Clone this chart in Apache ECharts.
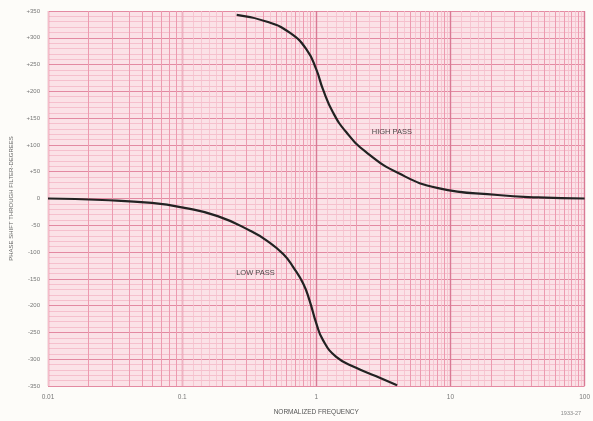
<!DOCTYPE html>
<html><head><meta charset="utf-8">
<script src="https://cdn.jsdelivr.net/npm/echarts@6/dist/echarts.min.js"></script>
<style>html,body{margin:0;padding:0;background:#fdfcf9;}#c{width:593px;height:421px;}</style>
</head><body><div id="c"></div>
<script>
// ---- data ----
const lowFreq = [0.01, 0.0254, 0.0594, 0.104, 0.184, 0.324, 0.43, 0.569, 0.673, 0.80, 0.89, 1.0, 1.12, 1.4, 1.98, 2.77, 4.0];
const lowDeg  = [0, -2.8, -8.3, -17.5, -32.9, -60.6, -79, -104, -128, -159, -190, -233, -264, -295, -316, -331.5, -348.7];
const highFreq = [0.255, 0.43, 0.638, 0.847, 1.0, 1.12, 1.33, 1.67, 2.34, 4.12, 8.1, 22.5, 45, 100];
const highDeg  = [342.6, 330, 309, 278, 241, 204, 161, 124, 87, 47, 19.4, 6.5, 2, 0];
const xTicks = [0.01, 0.1, 1, 10, 100];
const yMin = -350, yMax = 350, yStep = 50;
const curveLabels = [
  { name: 'HIGH PASS', f: 3.66, deg: 124.7 },
  { name: 'LOW PASS', f: 0.352, deg: -139.5 }
];
const figureNo = '1933-27';

// graph-paper vertical rulings (axis values, generated per decade)
const medLines = [], lightLines = [];
for (let d = 0; d < xTicks.length - 1; d++) {
  const b = xTicks[d];
  for (let k = 2; k <= 9; k++) medLines.push(b * k);
  [1.2, 1.4, 1.6, 1.8, 2.5, 3.5, 4.5, 5.5, 6.5, 7.5, 8.5, 9.5].forEach(k => lightLines.push(b * k));
}

const chart = echarts.init(document.getElementById('c'), null, { renderer: 'canvas' });
const font = 'Liberation Sans, Arial, sans-serif';
const pairs = (xs, ys) => xs.map((x, i) => [x, ys[i]]);

chart.setOption({
  animation: false,
  backgroundColor: '#fdfcf9',
  grid: { left: 45, right: 5, top: 11, bottom: 31, show: true, backgroundColor: '#fbe2e7', borderWidth: 0 },
  xAxis: {
    type: 'log', logBase: 10, min: 0.01, max: 100,
    name: 'NORMALIZED FREQUENCY', nameLocation: 'middle', nameGap: 23,
    nameTextStyle: { fontSize: 6.5, color: '#555', fontFamily: font },
    axisLine: { show: false }, axisTick: { show: false },
    axisLabel: { fontSize: 6.5, color: '#777', fontFamily: font, margin: 8,
      formatter: v => String(+v.toPrecision(3)) },
    splitLine: { show: true, lineStyle: { color: '#d97a95', width: 1.4 } },
    minorSplitLine: { show: false }
  },
  yAxis: {
    type: 'value', min: yMin, max: yMax, interval: yStep,
    name: 'PHASE SHIFT THROUGH FILTER-DEGREES', nameLocation: 'middle', nameGap: 34, nameRotate: 90,
    nameTextStyle: { fontSize: 6, color: '#666', fontFamily: font },
    axisLine: { show: false }, axisTick: { show: false },
    axisLabel: { fontSize: 6, color: '#777', fontFamily: font, margin: 8,
      formatter: v => v > 0 ? '+' + v : String(v) },
    splitLine: { show: true, lineStyle: { color: '#e38aa2', width: 1.2 } },
    minorTick: { show: false, splitNumber: 5 },
    minorSplitLine: { show: true, lineStyle: { color: '#f4b8c7', width: 0.8 } }
  },
  graphic: [{
    type: 'text', right: 12, bottom: 5,
    style: { text: figureNo, fontSize: 5.5, fill: '#888', fontFamily: font }
  }],
  series: [
    {
      type: 'line', data: [], silent: true, z: 1,
      markLine: { silent: true, symbol: ['none', 'none'], label: { show: false },
        lineStyle: { color: '#f5c0cd', width: 0.8, type: 'solid' },
        data: lightLines.map(v => ({ xAxis: v })) }
    },
    {
      type: 'line', data: [], silent: true, z: 1,
      markLine: { silent: true, symbol: ['none', 'none'], label: { show: false },
        lineStyle: { color: '#ec9bb0', width: 1, type: 'solid' },
        data: medLines.map(v => ({ xAxis: v })) }
    },
    {
      name: 'LOW PASS', type: 'line', smooth: 0.5, showSymbol: false, z: 5,
      lineStyle: { color: '#222', width: 2.2 },
      data: pairs(lowFreq, lowDeg)
    },
    {
      name: 'HIGH PASS', type: 'line', smooth: 0.5, showSymbol: false, z: 5,
      lineStyle: { color: '#222', width: 2.2 },
      data: pairs(highFreq, highDeg)
    },
    {
      type: 'scatter', symbolSize: 0, z: 6, silent: true,
      label: { show: true, position: 'inside', formatter: p => p.name,
        fontSize: 7.5, color: '#222', fontFamily: font },
      data: curveLabels.map(c => ({ name: c.name, value: [c.f, c.deg] }))
    }
  ]
});
</script></body></html>
